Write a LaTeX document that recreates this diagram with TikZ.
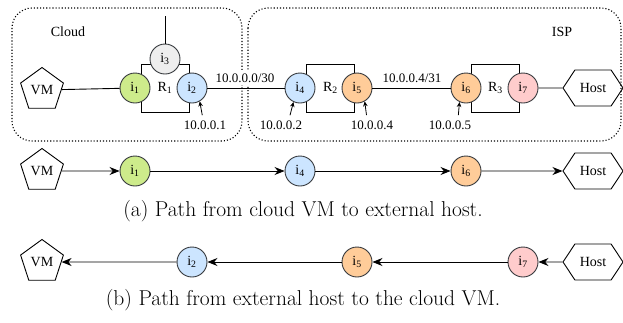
\documentclass[tikz,border=0pt]{standalone}
\usepackage{fontspec}
\newfontfamily\diagfont{Liberation Serif}
\usetikzlibrary{shapes.geometric,shapes.symbols,arrows.meta}
\definecolor{edge}{HTML}{36393D}
\definecolor{ifgreen}{HTML}{CDEB8B}
\definecolor{ifblue}{HTML}{CCE5FF}
\definecolor{ifgray}{HTML}{EEEEEE}
\definecolor{iforange}{HTML}{FFCC99}
\definecolor{ifred}{HTML}{FFCCCC}
\begin{document}
\begin{tikzpicture}
[x=1pt, y=-1pt, font=\diagfont\fontsize{14}{16}\selectfont, line width=0.9pt,
iface/.style={circle, draw=edge, minimum size=30pt, inner sep=0pt},
router/.style={rectangle, draw, minimum width=48pt, minimum height=48pt, inner sep=0pt},
vmbox/.style={regular polygon, regular polygon sides=5, draw, minimum size=45pt, inner sep=0pt},
hostbox/.style={signal, signal to=east and west, signal pointer angle=113, draw, minimum width=60pt, minimum height=36pt, inner sep=0pt},
zone/.style={draw, dotted, line width=1.1pt, rounded corners=20pt},
addr/.style={font=\diagfont\fontsize{13}{15}\selectfont, inner sep=1pt},
netaddr/.style={addr, fill=white, inner ysep=3pt},
pointer/.style={-{Stealth[length=5pt,width=4.5pt]}, line width=0.8pt, shorten <=4pt},
flow/.style={-{Stealth[length=10pt,width=8pt]}},
caption/.style={font=\rmfamily\fontsize{21.5}{25}\selectfont, text=black}]

\useasboundingbox (0,0) rectangle (623,322);

\draw[zone] (12,8) rectangle (242,141);
\draw[zone] (248,8) rectangle (621,141);
\node (cloud) at (68,32) {Cloud};
\node (isp) at (562,32) {ISP};

\node[netaddr] (net1) at (245,78) {10.0.0.0/30};
\node[netaddr] (net2) at (412,78) {10.0.0.4/31};

\node[vmbox] (vm) at (42,90) {VM};
\node[router] (r1) at (165,88) {R\textsubscript{1}};
\node[router] (r2) at (330.5,88) {R\textsubscript{2}};
\node[router] (r3) at (495.5,88) {R\textsubscript{3}};
\node[iface,fill=ifgreen] (i1) at (135,88) {i\textsubscript{1}};
\node[iface,fill=ifblue] (i2) at (192,88) {i\textsubscript{2}};
\node[iface,fill=ifgray] (i3) at (165,59) {i\textsubscript{3}};
\node[iface,fill=ifblue] (i4) at (300,88) {i\textsubscript{4}};
\node[iface,fill=iforange] (i5) at (357,88) {i\textsubscript{5}};
\node[iface,fill=iforange] (i6) at (466,88) {i\textsubscript{6}};
\node[iface,fill=ifred] (i7) at (523,88) {i\textsubscript{7}};
\node[hostbox] (host) at (593,88) {Host};
\coordinate (uplink) at (165,16);

\draw (vm) -- (i1);
\draw (i3) -- (uplink);
\draw (i2) -- (i4);
\draw (i5) -- (i6);
\draw (i7) -- (host);

\node[addr] (ip1) at (205,125) {10.0.0.1};
\node[addr] (ip2) at (281,125) {10.0.0.2};
\node[addr] (ip4) at (372,125) {10.0.0.4};
\node[addr] (ip5) at (450,125) {10.0.0.5};
\draw[pointer] ([xshift=-2pt]ip1.north) -- (i2.-60);
\draw[pointer] ([xshift=8pt]ip2.north) -- (i4.245);
\draw[pointer] ([xshift=-5pt]ip4.north) -- (i5.-60);
\draw[pointer] ([xshift=8pt]ip5.north) -- (i6.245);

\node[vmbox] (vma) at (42,171) {VM};
\node[iface,fill=ifgreen] (i1a) at (135,171) {i\textsubscript{1}};
\node[iface,fill=ifblue] (i4a) at (300,171) {i\textsubscript{4}};
\node[iface,fill=iforange] (i6a) at (466,171) {i\textsubscript{6}};
\node[hostbox] (hosta) at (593,171) {Host};
\draw[flow] (vma) -- (i1a);
\draw[flow] (i1a) -- (i4a);
\draw[flow] (i4a) -- (i6a);
\draw[flow] (i6a) -- (hosta);
\node[caption] (capa) at (303,211) {(a) Path from cloud VM to external host.};

\node[vmbox] (vmb) at (42,262) {VM};
\node[iface,fill=ifblue] (i2b) at (192,262) {i\textsubscript{2}};
\node[iface,fill=iforange] (i5b) at (357,262) {i\textsubscript{5}};
\node[iface,fill=ifred] (i7b) at (523,262) {i\textsubscript{7}};
\node[hostbox] (hostb) at (593,262) {Host};
\draw[flow] (hostb) -- (i7b);
\draw[flow] (i7b) -- (i5b);
\draw[flow] (i5b) -- (i2b);
\draw[flow] (i2b) -- (vmb);
\node[caption] (capb) at (303,300) {(b) Path from external host to the cloud VM.};
\end{tikzpicture}
\end{document}
